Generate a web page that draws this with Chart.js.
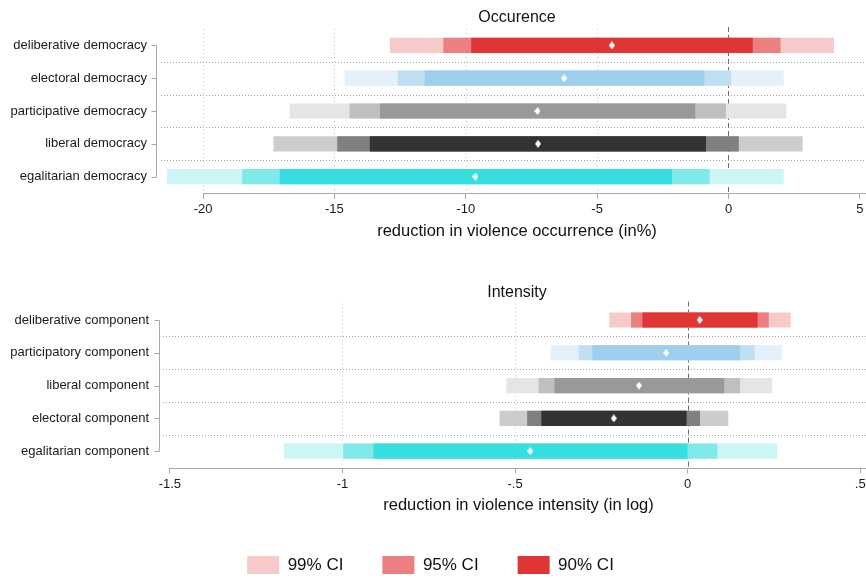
<!DOCTYPE html>
<html>
<head>
<meta charset="utf-8">
<script src="https://cdn.jsdelivr.net/npm/chart.js@4"></script>
<style>
  html, body { margin: 0; padding: 0; background: #fff; overflow: hidden; width: 866px; height: 579px; }
  canvas { position: absolute; left: 0; }
  #occ { top: 0; }
  #int { top: 270px; }
  #leg { top: 517px; }
</style>
</head>
<body>
<canvas id="occ" width="878" height="250"></canvas>
<canvas id="int" width="879" height="250"></canvas>
<canvas id="leg" width="866" height="230"></canvas>
<script>
// ---- Occurrence panel ----
const occurrenceLabels = ['deliberative democracy', 'electoral democracy', 'participative democracy', 'liberal democracy', 'egalitarian democracy'];
const occurrencePoint = [-4.44, -6.25, -7.27, -7.25, -9.63];
const occurrenceCI99 = [[-12.88, 4.00], [-14.60, 2.09], [-16.69, 2.19], [-17.31, 2.81], [-21.36, 2.09]];
const occurrenceCI95 = [[-10.84, 1.97], [-12.58, 0.09], [-14.41, -0.11], [-14.88, 0.38], [-18.50, -0.73]];
const occurrenceCI90 = [[-9.78, 0.91], [-11.55, -0.93], [-13.25, -1.28], [-13.64, -0.87], [-17.07, -2.16]];
const occurrenceTicks = [-20, -15, -10, -5, 0, 5];
const occurrenceTickLabels = ['-20', '-15', '-10', '-5', '0', '5'];

// ---- Intensity panel ----
const intensityLabels = ['deliberative component', 'participatory component', 'liberal component', 'electoral component', 'egalitarian component'];
const intensityPoint = [0.035, -0.062, -0.141, -0.214, -0.456];
const intensityCI99 = [[-0.226, 0.298], [-0.396, 0.273], [-0.524, 0.244], [-0.544, 0.117], [-1.169, 0.259]];
const intensityCI95 = [[-0.163, 0.234], [-0.315, 0.193], [-0.431, 0.151], [-0.464, 0.035], [-0.997, 0.085]];
const intensityCI90 = [[-0.130, 0.202], [-0.275, 0.151], [-0.385, 0.105], [-0.423, -0.004], [-0.909, -0.001]];
const intensityTicks = [-1.5, -1, -0.5, 0, 0.5];
const intensityTickLabels = ['-1.5', '-1', '-.5', '0', '.5'];

const ciLabels = ['99% CI', '95% CI', '90% CI'];

// shades per row: [99%, 95%, 90%]
const rowShades = [
  ['#f7caca', '#ec8080', '#e03535'],
  ['#e4f0fa', '#bfdff3', '#9ecfec'],
  ['#e5e5e5', '#bfbfbf', '#999999'],
  ['#cccccc', '#808080', '#333333'],
  ['#ccf6f6', '#80eaea', '#36dede']
];

Chart.defaults.font.family = "'Liberation Sans', Arial, Helvetica, sans-serif";
Chart.defaults.color = '#1a1a1a';
Chart.defaults.animation = false;

// white diamond used for the point estimates
const diamond = document.createElement('canvas');
diamond.width = 6; diamond.height = 8;
(function () {
  const c = diamond.getContext('2d');
  c.fillStyle = '#ffffff';
  c.beginPath();
  c.moveTo(3, 0); c.lineTo(6, 4); c.lineTo(3, 8); c.lineTo(0, 4);
  c.closePath(); c.fill();
})();

const panelPlugin = {
  id: 'panel',
  beforeDatasetsDraw(chart, args, o) {
    const { ctx, chartArea: a, scales: { x, y } } = chart;
    ctx.save();
    ctx.lineWidth = 1;
    const seg = (x1, y1, x2, y2) => { ctx.beginPath(); ctx.moveTo(x1, y1); ctx.lineTo(x2, y2); ctx.stroke(); };
    // vertical dotted grid
    ctx.strokeStyle = '#c4c4c4';
    ctx.setLineDash([1, 3]);
    o.vGrid.forEach(v => {
      const px = Math.round(x.getPixelForValue(v)) + 0.5;
      seg(px, a.top, px, a.bottom);
    });
    // horizontal dotted separators between rows
    ctx.strokeStyle = '#a3a3a3';
    ctx.setLineDash([1, 2]);
    for (let i = 0; i < chart.data.labels.length - 1; i++) {
      const py = Math.round((y.getPixelForValue(i) + y.getPixelForValue(i + 1)) / 2) + 0.5;
      seg(a.left, py, a.right, py);
    }
    // zero reference line
    ctx.strokeStyle = '#6e6e6e';
    ctx.setLineDash([5, 3]);
    const zx = Math.round(x.getPixelForValue(0)) + 0.5;
    seg(zx, a.top - 2, zx, a.bottom);
    ctx.restore();
  },
  afterDraw(chart, args, o) {
    const { ctx, chartArea: a, scales: { x, y } } = chart;
    ctx.save();
    ctx.lineWidth = 1;
    ctx.strokeStyle = '#a8a8a8';
    ctx.setLineDash([]);
    // x axis line from the first tick
    const ay = Math.round(a.bottom) + 0.5;
    ctx.beginPath();
    ctx.moveTo(Math.round(x.getPixelForValue(o.ticks[0])), ay);
    ctx.lineTo(a.right, ay);
    ctx.stroke();
    // y axis bracket with ticks at each category
    const bx = Math.round(a.left - o.bracketGap) + 0.5;
    const n = chart.data.labels.length;
    const y0 = Math.round(y.getPixelForValue(0)) + 0.5;
    const y1 = Math.round(y.getPixelForValue(n - 1)) + 0.5;
    ctx.beginPath();
    ctx.moveTo(bx, y0); ctx.lineTo(bx, y1);
    for (let i = 0; i < n; i++) {
      const py = Math.round(y.getPixelForValue(i)) + 0.5;
      ctx.moveTo(bx - 5, py); ctx.lineTo(bx, py);
    }
    ctx.stroke();
    // panel title
    ctx.fillStyle = '#111';
    ctx.font = "16px 'Liberation Sans', Arial, sans-serif";
    ctx.textAlign = 'center';
    ctx.textBaseline = 'middle';
    ctx.fillText(o.title, o.titleX, o.titleY);
    ctx.restore();
  }
};

function buildPanel(id, cfg) {
  const shade = lvl => rowShades.map(r => r[lvl]);
  return new Chart(document.getElementById(id), {
    type: 'bar',
    plugins: [panelPlugin],
    data: {
      labels: cfg.labels,
      datasets: [
        { type: 'line', data: cfg.point, showLine: false, pointStyle: diamond, pointRadius: 4, order: 0 },
        { data: cfg.ci90, backgroundColor: shade(2), order: 1 },
        { data: cfg.ci95, backgroundColor: shade(1), order: 2 },
        { data: cfg.ci99, backgroundColor: shade(0), order: 3 }
      ]
    },
    options: {
      responsive: false,
      indexAxis: 'y',
      layout: { padding: { top: cfg.padTop, left: 0, right: 0, bottom: 0 } },
      datasets: { bar: { grouped: false, barThickness: 14.5, borderWidth: 0, borderSkipped: false } },
      plugins: {
        legend: { display: false },
        tooltip: { enabled: false },
        panel: { vGrid: cfg.vGrid, ticks: cfg.ticks, bracketGap: cfg.bracketGap, title: cfg.title, titleX: 517, titleY: cfg.titleY }
      },
      scales: {
        x: {
          type: 'linear',
          min: cfg.min,
          max: cfg.max,
          afterBuildTicks: s => { s.ticks = cfg.ticks.map(v => ({ value: v })); },
          afterFit: s => { s.height = cfg.xHeight; },
          border: { display: false },
          grid: { drawOnChartArea: false, drawTicks: true, tickLength: 6, tickColor: '#a8a8a8', tickWidth: 1 },
          ticks: {
            padding: 3,
            font: { size: 13 },
            color: '#1a1a1a',
            maxRotation: 0,
            autoSkip: false,
            callback: (v) => { const i = cfg.ticks.indexOf(v); return i >= 0 ? cfg.tickLabels[i] : ''; }
          },
          title: { display: true, text: cfg.axisTitle, font: { size: 16.5 }, color: '#111', padding: { top: 0, bottom: cfg.titlePad } }
        },
        y: {
          type: 'category',
          offset: true,
          afterFit: s => { s.width = cfg.yWidth; },
          border: { display: false },
          grid: { display: false, drawTicks: false },
          ticks: { padding: 14, font: { size: 13 }, color: '#1a1a1a', autoSkip: false }
        }
      }
    }
  });
}

buildPanel('occ', {
  labels: occurrenceLabels, point: occurrencePoint,
  ci99: occurrenceCI99, ci95: occurrenceCI95, ci90: occurrenceCI90,
  ticks: occurrenceTicks, tickLabels: occurrenceTickLabels,
  vGrid: [-20, -15, -10, -5],
  min: -21.6, max: 5.5,
  padTop: 29, xHeight: 57, yWidth: 161, bracketGap: 5,
  title: 'Occurence', titleY: 18,
  axisTitle: 'reduction in violence occurrence (in%)', titlePad: 8.6
});

buildPanel('int', {
  labels: intensityLabels, point: intensityPoint,
  ci99: intensityCI99, ci95: intensityCI95, ci90: intensityCI90,
  ticks: intensityTicks, tickLabels: intensityTickLabels,
  vGrid: [-1, -0.5],
  min: -1.52, max: 0.54,
  padTop: 33.6, xHeight: 52.5, yWidth: 163, bracketGap: 4,
  title: 'Intensity', titleY: 22.5,
  axisTitle: 'reduction in violence intensity (in log)', titlePad: 4.6
});

// shared legend for the confidence levels
new Chart(document.getElementById('leg'), {
  type: 'bar',
  data: {
    labels: [],
    datasets: ciLabels.map((l, i) => ({ label: l, data: [], backgroundColor: rowShades[0][i], borderWidth: 0 }))
  },
  options: {
    responsive: false,
    layout: { padding: { right: 5 } },
    scales: { x: { display: false }, y: { display: false } },
    plugins: {
      tooltip: { enabled: false },
      legend: {
        position: 'top',
        onClick: () => {},
        labels: { boxWidth: 32, boxHeight: 18, padding: 39, font: { size: 17 }, color: '#111' }
      }
    }
  }
});
</script>
</body>
</html>
